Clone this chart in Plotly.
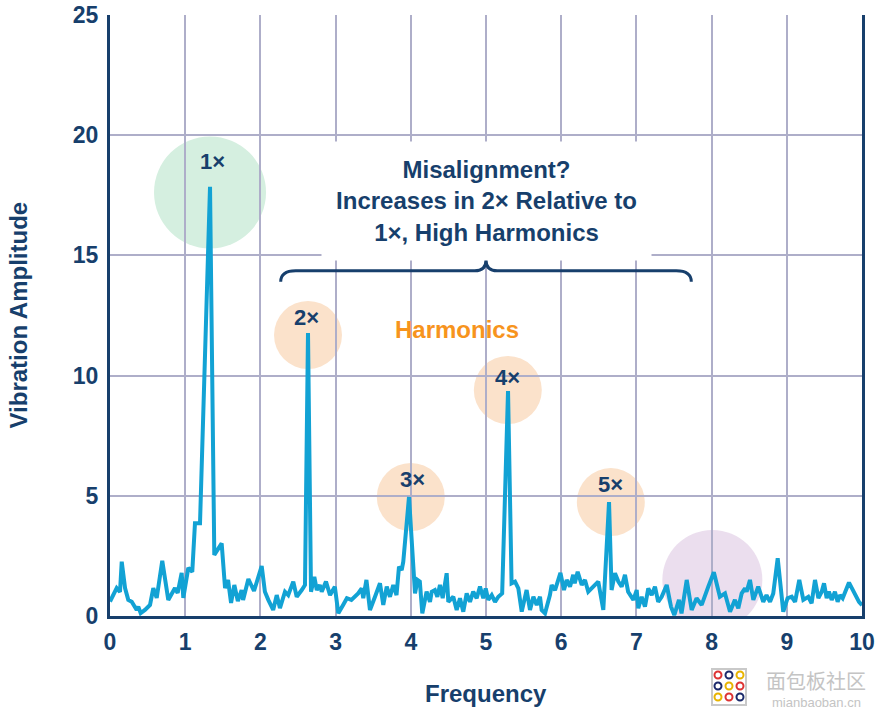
import plotly.graph_objects as go

# ---------------- data ----------------
freq = [0.0, 0.089, 0.133, 0.156, 0.20, 0.243, 0.289, 0.355, 0.376, 0.408,
        0.465, 0.532, 0.576, 0.621, 0.695, 0.775, 0.864, 0.90, 0.953, 0.975,
        1.041, 1.094, 1.13, 1.197, 1.33, 1.387, 1.485, 1.53, 1.57, 1.61,
        1.653, 1.70, 1.75, 1.77, 1.84, 1.915, 2.017, 2.06, 2.105, 2.17,
        2.217, 2.26, 2.327, 2.37, 2.437, 2.483, 2.55, 2.593, 2.633, 2.673,
        2.717, 2.75, 2.79, 2.815, 2.872, 2.926, 2.99, 3.036, 3.10, 3.15,
        3.21, 3.258, 3.30, 3.347, 3.368, 3.41, 3.457, 3.524, 3.59, 3.634,
        3.68, 3.723, 3.767, 3.81, 3.843, 3.879, 3.90, 3.976, 4.056, 4.09,
        4.12, 4.153, 4.21, 4.255, 4.278, 4.32, 4.353, 4.388, 4.424, 4.477,
        4.499, 4.565, 4.61, 4.654, 4.698, 4.743, 4.787, 4.83, 4.876, 4.92,
        4.964, 4.996, 5.03, 5.076, 5.12, 5.164, 5.215, 5.293, 5.34, 5.386,
        5.43, 5.475, 5.54, 5.585, 5.63, 5.674, 5.718, 5.74, 5.785, 5.85,
        5.873, 5.918, 5.99, 6.037, 6.073, 6.117, 6.16, 6.18, 6.219, 6.273,
        6.316, 6.36, 6.427, 6.493, 6.56, 6.636, 6.67, 6.715, 6.76, 6.804,
        6.848, 6.89, 6.96, 7.004, 7.025, 7.07, 7.114, 7.158, 7.203, 7.247,
        7.29, 7.336, 7.403, 7.46, 7.504, 7.566, 7.60, 7.669, 7.735, 7.80,
        7.868, 7.91, 7.956, 8.03, 8.11, 8.178, 8.245, 8.31, 8.355, 8.40,
        8.444, 8.466, 8.51, 8.555, 8.62, 8.687, 8.73, 8.777, 8.82, 8.879,
        8.953, 9.01, 9.065, 9.11, 9.166, 9.22, 9.286, 9.33, 9.375, 9.42,
        9.464, 9.495, 9.53, 9.56, 9.597, 9.64, 9.676, 9.707, 9.743, 9.827,
        9.907, 9.96, 10.0]

amplitude = [0.6, 1.16, 1.00, 2.26, 1.16, 0.67, 0.59, 0.25, 0.39, 0.12,
             0.25, 0.46, 1.16, 0.75, 2.30, 0.67, 1.16, 0.96, 1.79, 0.75,
             2.0, 1.84, 3.86, 3.86, 17.85, 2.54, 3.02, 1.16, 1.5, 0.54,
             1.29, 0.62, 1.08, 0.67, 1.54, 1.04, 2.08, 1.01, 0.67, 0.25,
             0.87, 0.33, 1.01, 0.87, 1.43, 0.80, 1.08, 1.29, 11.77, 1.01,
             1.63, 1.08, 1.29, 1.01, 1.43, 0.87, 1.22, 0.11, 0.46, 0.74,
             0.67, 0.80, 0.94, 1.15, 0.74, 1.50, 0.25, 0.80, 1.36, 0.46,
             1.22, 0.80, 1.29, 0.87, 2.05, 1.91, 2.26, 4.95, 0.94, 1.50,
             1.43, 0.11, 1.01, 0.59, 1.01, 1.08, 0.80, 1.29, 0.74, 1.78,
             0.59, 0.80, 0.25, 0.74, 0.18, 0.94, 0.59, 1.01, 0.74, 1.22,
             0.74, 1.15, 0.67, 0.87, 0.59, 0.80, 0.94, 9.36, 1.36, 1.43,
             1.15, 0.18, 1.08, 0.25, 0.80, 0.46, 0.80, 0.25, 0.11, 0.87,
             1.29, 1.08, 1.79, 1.08, 1.50, 1.22, 1.71, 1.36, 1.84, 1.29,
             1.50, 1.01, 1.22, 1.43, 0.25, 4.74, 1.08, 1.78, 1.43, 1.22,
             1.71, 1.01, 0.67, 1.08, 0.32, 0.80, 0.39, 1.15, 0.87, 1.22,
             0.59, 0.80, 1.29, 0.39, 0.04, 0.67, 0.11, 1.50, 0.25, 0.74,
             0.46, 0.87, 1.22, 1.82, 0.80, 0.94, 0.18, 0.67, 0.32, 0.94,
             1.15, 1.01, 1.50, 0.67, 1.22, 0.59, 0.87, 0.59, 0.94, 2.40,
             0.18, 0.74, 0.80, 0.59, 1.50, 0.67, 0.80, 0.53, 1.50, 0.74,
             1.01, 1.36, 0.74, 1.01, 0.67, 1.01, 0.59, 0.87, 0.74, 1.39,
             0.87, 0.59, 0.45]

assert len(freq) == len(amplitude)

# highlighted circles (centre frequency, centre amplitude)
circle_freq = [1.33, 2.633, 4.0, 5.29, 6.66, 8.01]
circle_amp = [17.62, 11.69, 4.95, 9.40, 4.74, 1.5]
circle_kind = ["fund", "harm", "harm", "harm", "harm", "other"]

# peak labels
label_text = ["1×", "2×", "3×", "4×", "5×"]
label_freq = [1.36, 2.61, 4.02, 5.28, 6.66]
label_amp = [18.9, 12.4, 5.66, 9.94, 5.49]

x_ticks = [0, 1, 2, 3, 4, 5, 6, 7, 8, 9, 10]
y_ticks = [0, 5, 10, 15, 20, 25]

# ---------------- styling ----------------
NAVY = "#173f6c"
LINE = "#12a2d4"
GRID = "#aeaec9"
ORANGE = "#f7941d"
FONT = "Liberation Sans, Arial, sans-serif"
circle_fill = {"fund": "#d5efe0", "harm": "#fbe2cb", "other": "#ebdeee"}
circle_r = {"fund": 56, "harm": 34, "other": 50}

fig = go.Figure()
fig.add_trace(go.Scatter(
    x=freq, y=amplitude, mode="lines",
    line=dict(color=LINE, width=4), hoverinfo="skip", showlegend=False))

shapes = []
for cx, cy, k in zip(circle_freq, circle_amp, circle_kind):
    r = circle_r[k]
    shapes.append(dict(
        type="circle", xref="x", yref="y",
        xsizemode="pixel", ysizemode="pixel",
        xanchor=cx, yanchor=cy, x0=-r, x1=r, y0=-r, y1=r,
        fillcolor=circle_fill[k], line=dict(width=0), layer="below"))

# curly brace under the question text
bx0, bx1, bmid = 2.27, 7.73, 5.0
by_end, by_bar, by_tip = 13.9, 14.36, 14.81
path = (f"M {bx0},{by_end} Q {bx0},{by_bar} {bx0+0.2},{by_bar} "
        f"L {bmid-0.15},{by_bar} Q {bmid},{by_bar} {bmid},{by_tip} "
        f"Q {bmid},{by_bar} {bmid+0.15},{by_bar} "
        f"L {bx1-0.2},{by_bar} Q {bx1},{by_bar} {bx1},{by_end}")
shapes.append(dict(type="path", xref="x", yref="y", path=path,
                   line=dict(color=NAVY, width=3), layer="above"))


# watermark logo box (paper coords, outside plot area)
def px2x(px):
    return (px - 110) / 752.0


def py2y(py):
    return (616 - py) / 601.0


shapes.append(dict(type="rect", xref="paper", yref="paper",
                   x0=px2x(712), x1=px2x(746), y0=py2y(705), y1=py2y(669),
                   line=dict(color="#c9c9c9", width=2), fillcolor="white",
                   layer="above"))
logo_cols = [["#d33", "#1b2a6b", "#e8b400"],
             ["#1b2a6b", "#e8b400", "#d33"],
             ["#e8b400", "#d33", "#1b2a6b"]]
for i in range(3):
    for j in range(3):
        cxp = 718 + j * 11
        cyp = 675 + i * 11
        shapes.append(dict(type="circle", xref="paper", yref="paper",
                           x0=px2x(cxp - 3.5), x1=px2x(cxp + 3.5),
                           y0=py2y(cyp + 3.5), y1=py2y(cyp - 3.5),
                           line=dict(color=logo_cols[i][j], width=2),
                           layer="above"))

annotations = []
for t, lx, ly in zip(label_text, label_freq, label_amp):
    annotations.append(dict(
        x=lx, y=ly, xref="x", yref="y", text=t, showarrow=False,
        font=dict(family=FONT, size=22, color=NAVY, weight="bold")))

annotations.append(dict(
    x=5.0, y=17.26, xref="x", yref="y",
    text="Misalignment?<br>Increases in 2× Relative to<br>1×, High Harmonics",
    showarrow=False, align="center", bgcolor="white",
    width=327, height=116,
    font=dict(family=FONT, size=24, color=NAVY, weight="bold")))

annotations.append(dict(
    x=4.61, y=11.9, xref="x", yref="y", text="Harmonics", showarrow=False,
    font=dict(family=FONT, size=24, color=ORANGE, weight="bold")))

# axis titles
annotations.append(dict(
    x=0.5, y=0, xref="paper", yref="paper", yanchor="middle",
    yshift=-77, text="Frequency", showarrow=False,
    font=dict(family=FONT, size=24, color=NAVY, weight="bold")))
annotations.append(dict(
    x=0, y=0.5, xref="paper", yref="paper", xanchor="center",
    xshift=-92, textangle=-90, text="Vibration Amplitude", showarrow=False,
    font=dict(family=FONT, size=24, color=NAVY, weight="bold")))

# watermark text
annotations.append(dict(
    x=px2x(816), y=py2y(680), xref="paper", yref="paper",
    xanchor="center", yanchor="middle", text="面包板社区", showarrow=False,
    font=dict(family="Noto Sans CJK SC", size=20, color="#c4c4c4")))
annotations.append(dict(
    x=px2x(816), y=py2y(702), xref="paper", yref="paper",
    xanchor="center", yanchor="middle", text="mianbaoban.cn",
    showarrow=False,
    font=dict(family=FONT, size=13, color="#c4c4c4")))

fig.update_layout(
    width=888, height=715,
    margin=dict(l=110, r=26, t=15, b=99, autoexpand=False),
    plot_bgcolor="white", paper_bgcolor="white",
    shapes=shapes, annotations=annotations,
    xaxis=dict(
        range=[0, 10], tickvals=x_ticks, ticktext=[str(v) for v in x_ticks],
        showgrid=True, gridcolor=GRID, gridwidth=2,
        showline=True, linecolor=NAVY, linewidth=3, mirror=False,
        zeroline=False, ticks="", ticklabelstandoff=3, automargin=False,
        tickfont=dict(family=FONT, size=23, color=NAVY, weight="bold"),
        fixedrange=True),
    yaxis=dict(
        range=[0, 25], tickvals=y_ticks, ticktext=[str(v) for v in y_ticks],
        showgrid=True, gridcolor=GRID, gridwidth=2,
        showline=True, linecolor=NAVY, linewidth=3, mirror=True,
        zeroline=False, ticks="", ticklabelstandoff=4, automargin=False,
        tickfont=dict(family=FONT, size=23, color=NAVY, weight="bold"),
        fixedrange=True),
)

fig.write_html(
    "out.html",
    config={"displayModeBar": False},
    post_script="document.body.style.margin='0px';"
                "document.body.style.overflow='hidden';")
